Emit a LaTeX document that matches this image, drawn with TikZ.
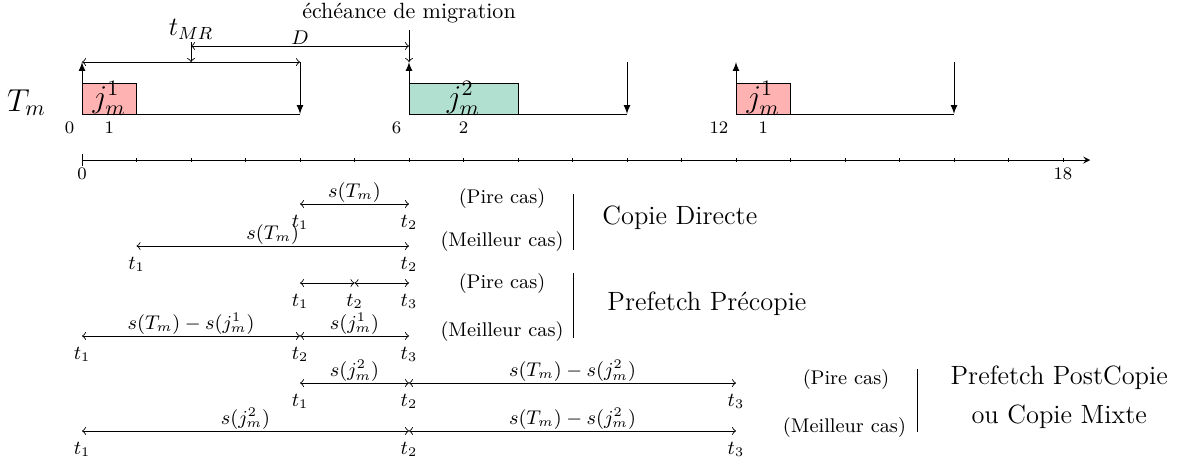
\documentclass[tikz,border=0pt]{standalone}
\usepackage{amsmath, amssymb}
\usepackage{xcolor}
\usepackage{tikz}
\definecolor{jobred}{RGB}{255,178,178}
\definecolor{jobgreen}{RGB}{178,224,208}
\tikzset{
  numlab/.style={font=\footnotesize},
  spanlab/.style={font=\small, above, inner sep=0.5pt},
  tlab/.style={font=\small, below=4.5pt, inner sep=0.5pt},
  caslab/.style={font=\small},
  method/.style={font=\large},
  rangearrow/.style={<->}
}

\begin{document}
\begin{tikzpicture}[x=0.87cm, y=0.87cm]
    \useasboundingbox (-1.505,-5.523) rectangle (20.239,2.936);
    % axe du temps
    \coordinate (o) at (0,0);
    \coordinate (tend) at (18.5,0);
    \draw[|-stealth] (o) -- (tend);
    \foreach \i in {1,...,18} \draw (\i,0.04) -- (\i,-0.04);
    \node[numlab, below] (t0) at (0,0) {0};
    \node[numlab, below] (t18) at (18,0) {18};
    % les trois travaux de T_m
    \node[font=\Large] (tm) at (-1.02,1.05) {$T_m$};
    \foreach \r/\c/\k/\col in {0/1/1/jobred, 6/2/2/jobgreen, 12/1/1/jobred}{
        \coordinate (rel\r) at (\r,0.844);
        \coordinate (relt\r) at (\r,1.798);
        \coordinate (dl\r) at ({\r+4},0.844);
        \coordinate (dlt\r) at ({\r+4},1.798);
        \draw (rel\r) -- (dl\r);
        \draw[fill=\col] (rel\r) rectangle ++(\c,0.569);
        \node[font=\Large, inner sep=0pt] (job\r) at ({\r+\c/2},1.128) {$j_m^{\k}$};
        \draw[-latex] (rel\r) -- (relt\r);
        \draw[-latex] (dlt\r) -- (dl\r);
        \node[numlab, below left] (rlab\r) at (rel\r) {\r};
        \node[numlab, below] (clab\r) at ({\r+\c/2},0.844) {\c};
    }
    \draw[rangearrow] (relt0) -- (dlt0);
    % t_MR, D et echeance
    \coordinate (mr) at (2,2.165);
    \coordinate (mrb) at (2,1.798);
    \draw[->] (mr) -- (mrb);
    \node[font=\large, above, inner sep=1pt] (tmr) at (mr) {$t_{MR}$};
    \coordinate (da) at (2,2.092);
    \coordinate (db) at (6,2.092);
    \draw[rangearrow] (da) -- node[font=\small, above, inner sep=0.5pt] (dlab) {$D$} (db);
    \coordinate (ech) at (6,2.385);
    \draw[->] (ech) -- (relt6);
    \node[above, inner sep=2.8pt] (echlab) at (ech) {échéance de migration};
    % Copie Directe
    \coordinate (cdp1) at (4,-0.807);
    \coordinate (cdp2) at (6,-0.807);
    \draw[rangearrow] (cdp1) -- node[spanlab] (scdp) {$s(T_m)$} (cdp2);
    \coordinate (cdm1) at (1,-1.578);
    \coordinate (cdm2) at (6,-1.578);
    \draw[rangearrow] (cdm1) -- node[spanlab] (scdm) {$s(T_m)$} (cdm2);
    % Prefetch Precopie
    \coordinate (ppp1) at (4,-2.257);
    \coordinate (ppp2) at (5,-2.257);
    \coordinate (ppp3) at (6,-2.257);
    \draw[rangearrow] (ppp1) -- (ppp2);
    \draw[rangearrow] (ppp2) -- (ppp3);
    \coordinate (ppm1) at (0,-3.229);
    \coordinate (ppm2) at (4,-3.229);
    \coordinate (ppm3) at (6,-3.229);
    \draw[rangearrow] (ppm1) -- node[spanlab] (sppm1) {$s(T_m) - s(j_m^1)$} (ppm2);
    \draw[rangearrow] (ppm2) -- node[spanlab] (sppm2) {$s(j_m^1)$} (ppm3);
    % Prefetch PostCopie
    \coordinate (pcp1) at (4,-4.092);
    \coordinate (pcp2) at (6,-4.092);
    \coordinate (pcp3) at (12,-4.092);
    \draw[rangearrow] (pcp1) -- node[spanlab] (spcp1) {$s(j_m^2)$} (pcp2);
    \draw[rangearrow] (pcp2) -- node[spanlab] (spcp2) {$s(T_m) - s(j_m^2)$} (pcp3);
    \coordinate (pcm1) at (0,-4.972);
    \coordinate (pcm2) at (6,-4.972);
    \coordinate (pcm3) at (12,-4.972);
    \draw[rangearrow] (pcm1) -- node[spanlab] (spcm1) {$s(j_m^2)$} (pcm2);
    \draw[rangearrow] (pcm2) -- node[spanlab] (spcm2) {$s(T_m) - s(j_m^2)$} (pcm3);
    % les instants t_i
    \foreach \p/\k in {cdp1/1, cdp2/2, cdm1/1, cdm2/2, ppp1/1, ppp2/2, ppp3/3,
                       ppm1/1, ppm2/2, ppm3/3, pcp1/1, pcp2/2, pcp3/3, pcm1/1, pcm2/2, pcm3/3}
        \node[tlab] (l\p) at (\p) {$t_\k$};
    % cas et methodes
    \node[caslab] (cdpire) at (7.706,-0.716) {(Pire cas)};
    \node[caslab] (cdmeil) at (7.706,-1.505) {(Meilleur cas)};
    \coordinate (cdbar1) at (9.009,-0.624);
    \coordinate (cdbar2) at (9.009,-1.651);
    \draw (cdbar1) -- (cdbar2);
    \node[method, anchor=west, inner sep=0pt] (cd) at (9.541,-1.064) {Copie Directe};
    \node[caslab] (pppire) at (7.706,-2.275) {(Pire cas)};
    \node[caslab] (ppmeil) at (7.706,-3.156) {(Meilleur cas)};
    \coordinate (ppbar1) at (9.009,-2.073);
    \coordinate (ppbar2) at (9.009,-3.266);
    \draw (ppbar1) -- (ppbar2);
    \node[method, anchor=west, inner sep=0pt] (pp) at (9.633,-2.642) {Prefetch Précopie};
    \node[caslab] (pcpire) at (14.018,-4.037) {(Pire cas)};
    \node[caslab] (pcmeil) at (13.99,-4.917) {(Meilleur cas)};
    \coordinate (pcbar1) at (15.321,-3.835);
    \coordinate (pcbar2) at (15.321,-4.991);
    \draw (pcbar1) -- (pcbar2);
    \node[method, align=center] (pc) at (17.93,-4.35) {Prefetch PostCopie\\[4pt] ou Copie Mixte};
\end{tikzpicture}
\end{document}
